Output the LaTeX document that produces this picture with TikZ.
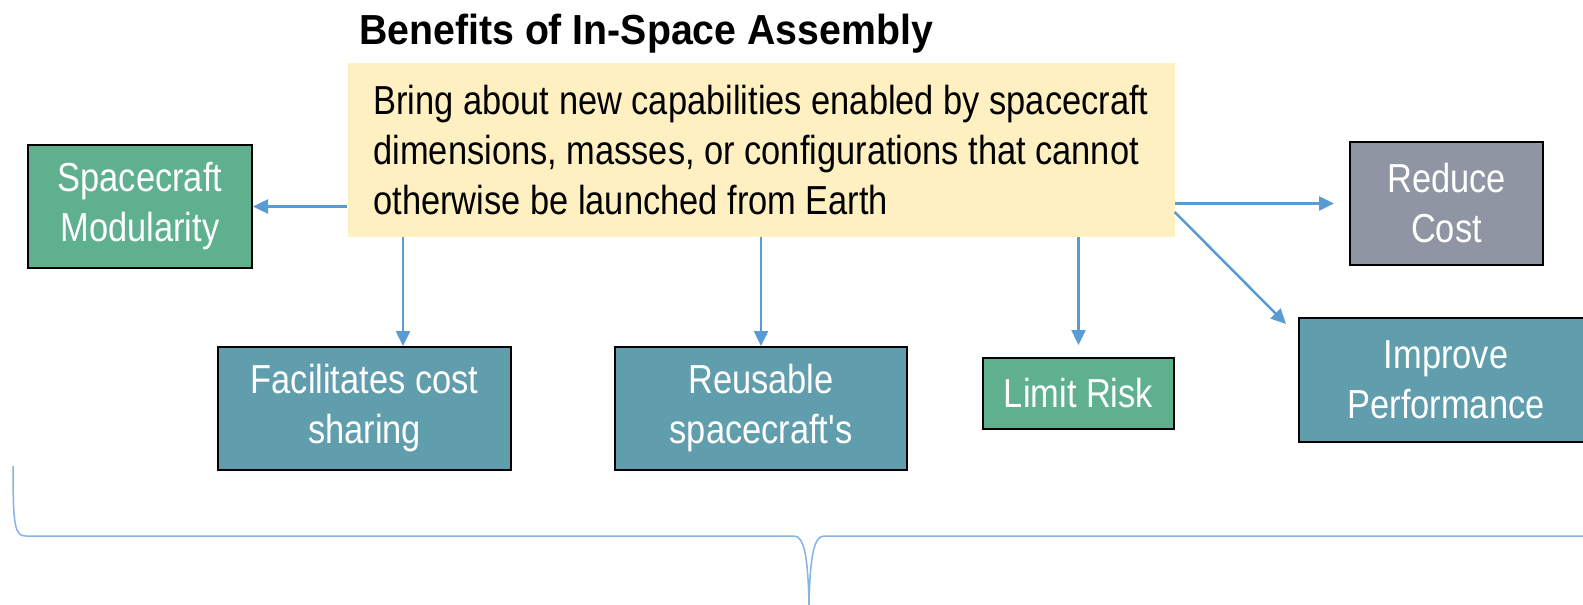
\documentclass[tikz,border=0pt]{standalone}
\usepackage{fontspec}
\usepackage{tikz}
\usetikzlibrary{arrows.meta}
\setmainfont{Liberation Sans}
\newfontfamily\narrowfont{Liberation Sans}[FakeStretch=0.85]
\newfontfamily\headfont{Liberation Sans}[FakeStretch=0.935]
\definecolor{sagegreen}{RGB}{94, 176, 142}
\definecolor{steelteal}{RGB}{96, 157, 173}
\definecolor{slategray}{RGB}{143, 149, 162}
\definecolor{cream}{RGB}{255, 240, 194}
\definecolor{linkblue}{RGB}{91, 155, 213}
\definecolor{braceblue}{RGB}{132, 180, 226}

\begin{document}
\begin{tikzpicture}[x=1pt, y=-1pt,
        box/.style={draw=black, line width=2pt, align=center, text=white, inner sep=0pt,
                    font=\narrowfont\fontsize{40.5}{50}\selectfont},
        link/.style={draw=linkblue, line width=2.5pt, -{Triangle[length=15pt, width=14pt]}}]
    \useasboundingbox[fill=white] (0,0) rectangle (1583,605);

    % title and the main idea
    \node[anchor=base west, inner sep=0pt, font=\headfont\bfseries\fontsize{42}{48}\selectfont]
        (title) at (359,44) {Benefits of In-Space Assembly};
    \node[fill=cream, minimum width=827pt, minimum height=174pt, inner sep=0pt,
          align=left, font=\narrowfont\fontsize{40.5}{50}\selectfont]
        (idea) at (761,150) {Bring about new capabilities enabled by spacecraft\\
                             dimensions, masses, or configurations that cannot\\
                             otherwise be launched from Earth};

    % benefit boxes
    \node[box, fill=sagegreen, minimum width=224pt, minimum height=123pt] (modul) at ( 140.0, 206.5) {Spacecraft\\Modularity};
    \node[box, fill=slategray, minimum width=193pt, minimum height=123pt] (cost)  at (1446.5, 203.5) {Reduce\\Cost};
    \node[box, fill=steelteal, minimum width=293pt, minimum height=123pt] (share) at ( 364.5, 408.5) {Facilitates cost\\sharing};
    \node[box, fill=steelteal, minimum width=292pt, minimum height=123pt] (reuse) at ( 761.0, 408.5) {Reusable\\spacecraft's};
    \node[box, fill=sagegreen, minimum width=191pt, minimum height= 71pt] (risk)  at (1078.5, 393.5) {Limit Risk};
    \node[box, fill=steelteal, minimum width=294pt, minimum height=124pt] (perf)  at (1446.0, 380.0) {Improve\\Performance};

    % arrows
    \draw[link] (idea.west |- modul.east) -- (modul.east);
    \draw[link, shorten >=15pt] (idea.east |- cost.west) -- (cost.west);
    \draw[link] ([xshift=38.5pt]share.north |- idea.south) -- ([xshift=38.5pt]share.north);
    \draw[link] (reuse.north |- idea.south) -- (reuse.north);
    \draw[link, shorten >=12pt] (risk.north |- idea.south) -- (risk.north);
    \coordinate (perfin) at ([xshift=-12pt, yshift=-7pt]perf.north west);
    \draw[link] ([yshift=-62pt]idea.east) -- (perfin);

    % brace under the boxes
    \draw[braceblue, line width=1.5pt]
        (13,466) .. controls (13,528) and (15,536) .. (26,536) -- (794,536)
        .. controls (804,536) and (808,556) .. (809,605)
        .. controls (810,556) and (814,536) .. (824,536) -- (1592,536)
        .. controls (1603,536) and (1605,528) .. (1605,466);
\end{tikzpicture}
\end{document}
